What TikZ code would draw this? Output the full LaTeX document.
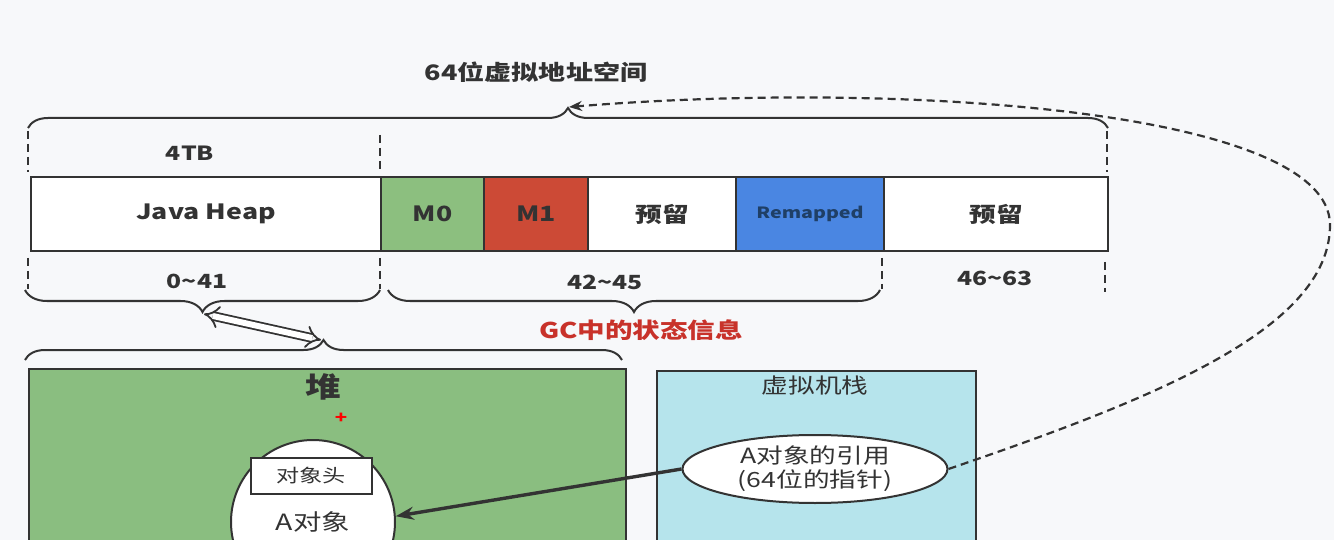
\documentclass[tikz,border=0pt]{standalone}
\usepackage{fontspec}
\setmainfont{Noto Sans CJK SC}[FakeStretch=1.27]
\usetikzlibrary{arrows.meta,decorations.pathreplacing,shapes.geometric}
\definecolor{bg}{HTML}{F7F8FA}
\definecolor{txt}{HTML}{333333}
\definecolor{mzero}{HTML}{8CBF7F}
\definecolor{mone}{HTML}{CC4A36}
\definecolor{remap}{HTML}{4A86E2}
\definecolor{heapg}{HTML}{8ABE80}
\definecolor{stackc}{HTML}{B6E4EC}
\definecolor{gcred}{HTML}{C8322A}
\definecolor{remaptxt}{HTML}{1F3F66}
\begin{document}
\begin{tikzpicture}[x=1pt,y=-1pt,
 seg/.style={draw=txt, line width=2pt, minimum height=74pt, inner sep=0pt, anchor=north west, font=\bfseries\fontsize{21}{24}\selectfont, text=txt},
 brc/.style={draw=txt, line width=2pt, decorate, decoration={brace, amplitude=#1}},
 dl/.style={draw=txt, line width=2.2pt, dash pattern=on 8pt off 5pt},
 lbl/.style={text=txt, font=\bfseries\fontsize{19.5}{22}\selectfont},
 boxs/.style={draw=txt, line width=2pt, anchor=north west, inner sep=0pt}
]
\fill[bg] (0,0) rectangle (1334,540);
\useasboundingbox (0,0) rectangle (1334,540);

% title
\node[text=txt, font=\bfseries\fontsize{21.3}{24}\selectfont] (title) at (536,72) {64位虚拟地址空间};

% segments
\node[seg, minimum width=350pt, fill=white] (jh) at (30,176) {Java Heap};
\node[seg, minimum width=103pt, fill=mzero] (m0) at (380,176) {M0};
\node[seg, minimum width=104pt, fill=mone] (m1) at (483,176) {M1};
\node[seg, minimum width=148pt, fill=white] (r1) at (587,176) {预留};
\node[seg, minimum width=148pt, fill=remap, text=remaptxt, font=\bfseries\fontsize{15.5}{18}\selectfont] (rm) at (735,176) {Remapped};
\node[seg, minimum width=224pt, fill=white] (r2) at (883,176) {预留};

% top brace
\coordinate (toptip) at (569,107);
\draw[brc=20pt] (28,128) -- (1108,128);
\draw[dl] (28,131) -- (28,172);
\draw[dl] (380,135) -- (380,172);
\draw[dl] (1107,131) -- (1107,172);
\node[lbl] (tb) at (190,153) {4TB};

% bottom braces
\draw[dl] (28,258) -- (28,289);
\draw[dl] (380,258) -- (380,289);
\draw[dl] (882,258) -- (882,289);
\draw[dl] (1105,262) -- (1105,292);
\draw[brc=22pt] (380,290) -- (25,290);
\draw[brc=22pt] (880,290) -- (388,290);
\coordinate (b1tip) at (204,314);
\coordinate (b2tip) at (634,312);
\node[lbl] (l041) at (197,281) {0\textasciitilde 41};
\node[lbl] (l4245) at (605,282) {42\textasciitilde 45};
\node[lbl] (l4663) at (995,278) {46\textasciitilde 63};
\node[text=gcred, font=\bfseries\fontsize{21.7}{24}\selectfont] (gc) at (641,330) {GC中的状态信息};

% heap brace
\draw[brc=20pt] (25,360) -- (622,360);
\coordinate (hbtip) at (321,340);
\draw[draw=txt, line width=1.8pt, double=white, double distance=6pt, {Implies}-{Implies}] (b1tip) -- (hbtip);

% heap
\node[boxs, fill=heapg, minimum width=597pt, minimum height=200pt] (heap) at (28,368) {};
\node[text=txt, font=\bfseries\fontsize{28}{30}\selectfont] (dui) at (323,387) {堆};
\node[text=red, font=\bfseries\fontsize{16}{16}\selectfont] (plus) at (341,418) {+};
\node[circle, draw=txt, fill=white, line width=2pt, minimum size=164pt, inner sep=0pt, text=txt, font=\fontsize{22.4}{26}\selectfont] (aobj) at (313,522) {A对象};
\node[draw=txt, fill=white, line width=2pt, minimum width=121pt, minimum height=36pt, inner sep=0pt, text=txt, font=\fontsize{18.2}{20}\selectfont] (hdr) at (311,476) {对象头};

% stack
\node[boxs, fill=stackc, minimum width=319pt, minimum height=200pt] (stack) at (656,370) {};
\node[text=txt, font=\fontsize{21}{24}\selectfont] (vms) at (815,386) {虚拟机栈};
\node[ellipse, draw=txt, fill=white, line width=2pt, minimum width=265pt, minimum height=68pt, inner sep=0pt, align=center, text=txt, font=\fontsize{21}{24}\selectfont] (ref) at (815,469) {A对象的引用\\(64位的指针)};

% connectors
\draw[txt, line width=3.4pt, -{Stealth[length=18pt,width=13pt]}] (ref.west) -- (aobj.4);
\draw[dl, -{Stealth[length=13pt,width=10pt]}] (ref.east) .. controls (1150,400) and (1330,330) .. (1330,225) .. controls (1330,110) and (900,80) .. (toptip);
\end{tikzpicture}
\end{document}
